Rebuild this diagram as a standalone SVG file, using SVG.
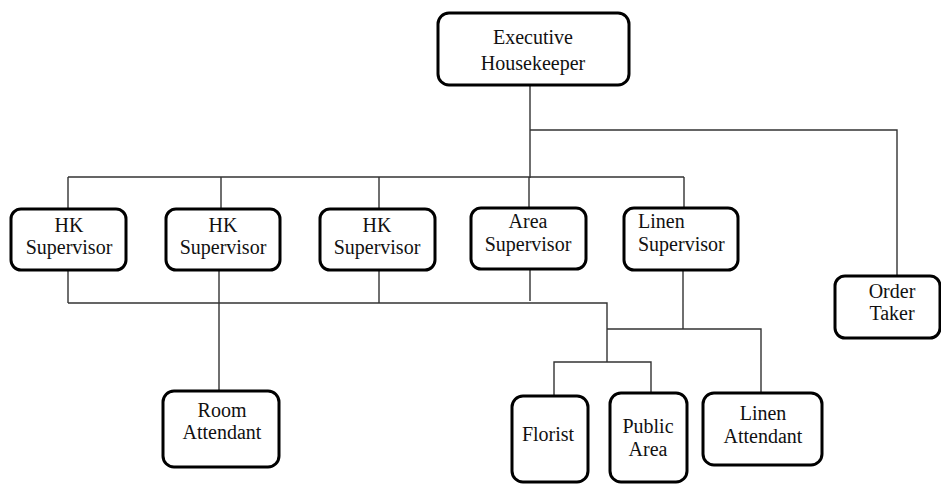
<svg xmlns="http://www.w3.org/2000/svg" width="941" height="484" viewBox="0 0 941 484">
<style>
.box{fill:#fff;stroke:#000;stroke-width:3}
.t{font-size:20px;fill:#111;text-anchor:middle}
.l{text-anchor:start}
.c{fill:none;stroke:#333;stroke-width:1.4}
</style>
<rect width="941" height="484" fill="#fff"/>
<g id="connectors">
<path class="c" d="M530 85V178M530 130H897V276M68 177H684M68 177V208M221 177V208M379 177V208M529 177V208M684 177V208"/>
<path class="c" d="M68 270V303M219 270V391M379 270V303M530 270V301M68 303H607V362M554 396V362H651V393M683 270V329M607 329H761V393"/>
</g>
<g id="exec"><rect class="box" x="438" y="13" width="191" height="72" rx="11"/><text class="t" font-family="Liberation Serif, serif" x="533" y="44">Executive</text><text class="t" font-family="Liberation Serif, serif" x="533" y="70">Housekeeper</text></g>
<g id="hk1"><rect class="box" x="11" y="209" width="115" height="61" rx="10"/><text class="t" font-family="Liberation Serif, serif" x="69" y="232">HK</text><text class="t" font-family="Liberation Serif, serif" x="69" y="254">Supervisor</text></g>
<g id="hk2"><rect class="box" x="166" y="209" width="114" height="61" rx="10"/><text class="t" font-family="Liberation Serif, serif" x="223" y="232">HK</text><text class="t" font-family="Liberation Serif, serif" x="223" y="254">Supervisor</text></g>
<g id="hk3"><rect class="box" x="320" y="209" width="115" height="61" rx="10"/><text class="t" font-family="Liberation Serif, serif" x="377" y="232">HK</text><text class="t" font-family="Liberation Serif, serif" x="377" y="254">Supervisor</text></g>
<g id="area"><rect class="box" x="471" y="208" width="115" height="61" rx="10"/><text class="t" font-family="Liberation Serif, serif" x="528" y="228">Area</text><text class="t" font-family="Liberation Serif, serif" x="528" y="251">Supervisor</text></g>
<g id="linensup"><rect class="box" x="624" y="208" width="114" height="62" rx="10"/><text class="t l" font-family="Liberation Serif, serif" x="638" y="228">Linen</text><text class="t l" font-family="Liberation Serif, serif" x="638" y="251">Supervisor</text></g>
<g id="order"><rect class="box" x="835" y="276" width="105" height="62" rx="10"/><text class="t" font-family="Liberation Serif, serif" x="892" y="298">Order</text><text class="t" font-family="Liberation Serif, serif" x="892" y="320">Taker</text></g>
<g id="room"><rect class="box" x="163" y="391" width="116" height="76" rx="11"/><text class="t" font-family="Liberation Serif, serif" x="222" y="417">Room</text><text class="t" font-family="Liberation Serif, serif" x="222" y="439">Attendant</text></g>
<g id="florist"><rect class="box" x="512" y="396" width="76" height="86" rx="11"/><text class="t" font-family="Liberation Serif, serif" x="548" y="441">Florist</text></g>
<g id="public"><rect class="box" x="610" y="393" width="77" height="89" rx="11"/><text class="t" font-family="Liberation Serif, serif" x="648" y="433">Public</text><text class="t" font-family="Liberation Serif, serif" x="648" y="456">Area</text></g>
<g id="linenatt"><rect class="box" x="703" y="393" width="119" height="72" rx="11"/><text class="t" font-family="Liberation Serif, serif" x="763" y="420">Linen</text><text class="t" font-family="Liberation Serif, serif" x="763" y="443">Attendant</text></g>
</svg>
